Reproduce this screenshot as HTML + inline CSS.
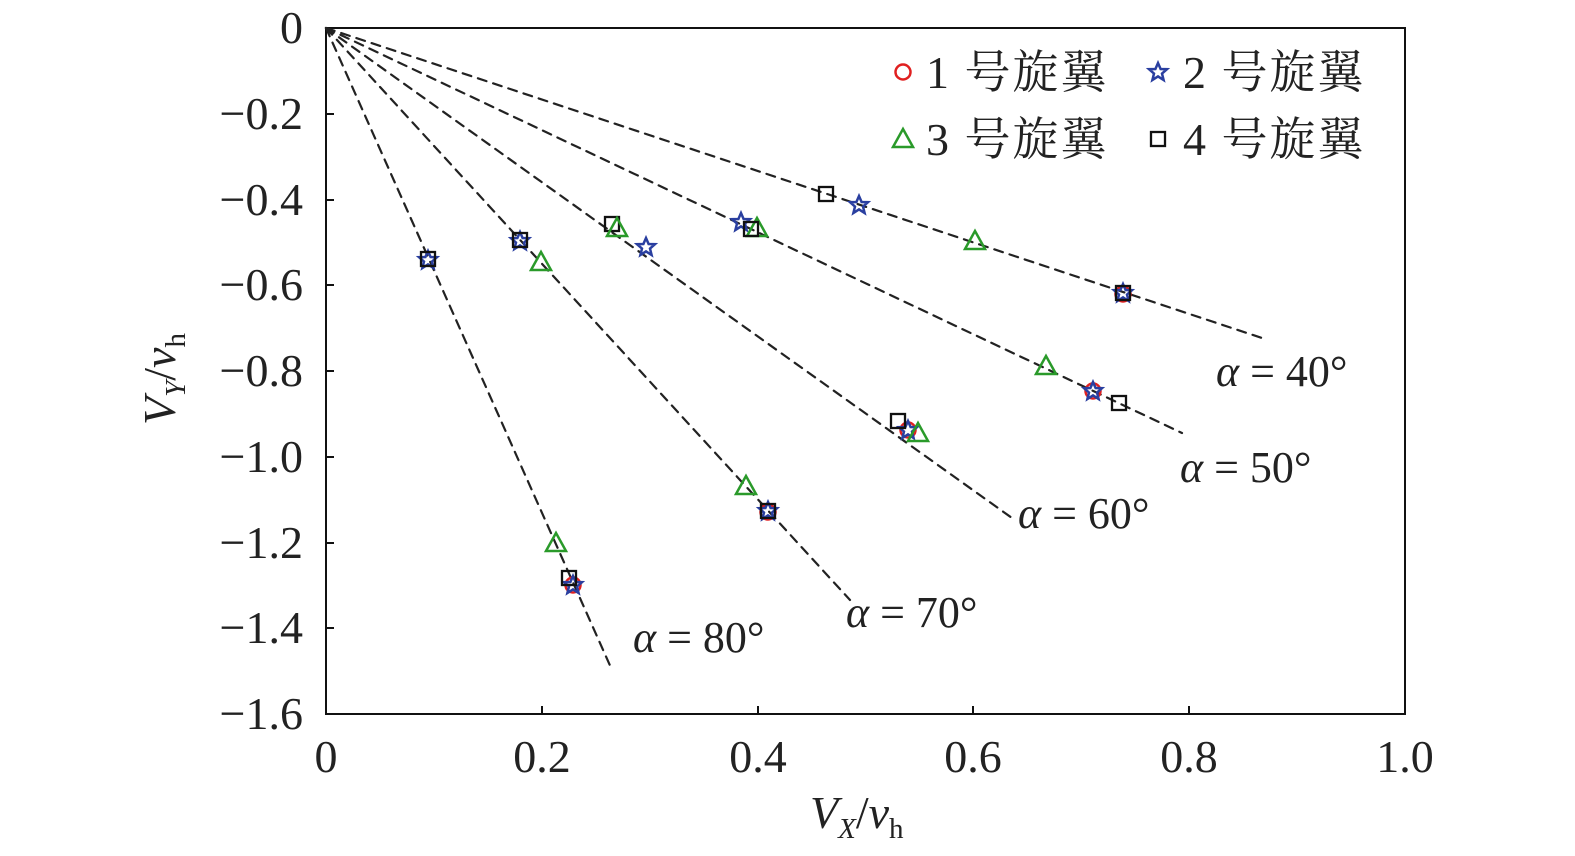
<!DOCTYPE html>
<html><head><meta charset="utf-8"><style>
html,body{margin:0;padding:0;background:#fff;}
svg{display:block;}
text{font-family:"Liberation Serif","Noto Serif CJK SC",serif;fill:#222;}
</style></head><body>
<svg width="1575" height="856" viewBox="0 0 1575 856" xmlns="http://www.w3.org/2000/svg">
<defs>
<g id="c"><circle r="7.5" fill="none" stroke="#e02020" stroke-width="2.5"/></g>
<g id="s"><polygon points="0,-9 2.6,-3 9,-2.8 4,1.6 5.6,8 0,4.4 -5.6,8 -4,1.6 -9,-2.8 -2.6,-3" fill="none" stroke="#2a3fa0" stroke-width="2.5"/></g>
<g id="t"><polygon points="0,-10 10,8 -10,8" fill="none" stroke="#2a9a2a" stroke-width="2.5"/></g>
<g id="q"><rect x="-7" y="-7" width="14" height="14" fill="none" stroke="#111" stroke-width="2.3"/></g>
</defs>
<rect x="326" y="28" width="1079" height="686" fill="none" stroke="#111" stroke-width="2"/>
<g stroke="#111" stroke-width="2">
<line x1="542" y1="714" x2="542" y2="706"/><line x1="758" y1="714" x2="758" y2="706"/><line x1="973" y1="714" x2="973" y2="706"/><line x1="1189" y1="714" x2="1189" y2="706"/>
<line x1="326" y1="114" x2="334" y2="114"/><line x1="326" y1="200" x2="334" y2="200"/><line x1="326" y1="285" x2="334" y2="285"/><line x1="326" y1="371" x2="334" y2="371"/><line x1="326" y1="457" x2="334" y2="457"/><line x1="326" y1="543" x2="334" y2="543"/><line x1="326" y1="628" x2="334" y2="628"/>
</g>
<g font-size="46" text-anchor="end">
<text x="303" y="43">0</text><text x="303" y="129">−0.2</text><text x="303" y="215">−0.4</text><text x="303" y="300">−0.6</text><text x="303" y="386">−0.8</text><text x="303" y="472">−1.0</text><text x="303" y="558">−1.2</text><text x="303" y="643">−1.4</text><text x="303" y="729">−1.6</text>
</g>
<g font-size="46" text-anchor="middle">
<text x="326" y="772">0</text><text x="542" y="772">0.2</text><text x="758" y="772">0.4</text><text x="973" y="772">0.6</text><text x="1189" y="772">0.8</text><text x="1405" y="772">1.0</text>
</g>
<text x="810" y="828" font-size="46" font-style="italic">V<tspan font-size="29" dy="10">X</tspan><tspan dy="-10" font-style="normal">/</tspan>v<tspan font-size="29" dy="10" font-style="normal">h</tspan></text>
<text transform="translate(175,425) rotate(-90)" font-size="46" font-style="italic">V<tspan font-size="29" dy="10">Y</tspan><tspan dy="-10" font-style="normal">/</tspan>v<tspan font-size="29" dy="10" font-style="normal">h</tspan></text>
<g stroke="#222" stroke-width="2.2" stroke-dasharray="9,7" fill="none" stroke-linecap="round">
<line x1="326" y1="28" x2="1262" y2="338"/>
<line x1="326" y1="28" x2="1182" y2="433"/>
<line x1="326" y1="28" x2="1012" y2="518"/>
<line x1="326" y1="28" x2="850" y2="600"/>
<line x1="326" y1="28" x2="612" y2="670"/>
</g>
<g font-size="44" xml:space="preserve">
<text x="1216" y="386"><tspan font-style="italic">α</tspan>  =  40°</text>
<text x="1180" y="482"><tspan font-style="italic">α</tspan>  =  50°</text>
<text x="1018" y="528"><tspan font-style="italic">α</tspan>  =  60°</text>
<text x="846" y="627"><tspan font-style="italic">α</tspan>  =  70°</text>
<text x="633" y="652"><tspan font-style="italic">α</tspan>  =  80°</text>
</g>
<use href="#q" x="826" y="194"/><use href="#s" x="859" y="205"/><use href="#t" x="975" y="241"/><use href="#c" x="1123" y="294"/><use href="#s" x="1123" y="293"/><use href="#q" x="1123" y="293"/>
<use href="#s" x="741" y="222"/><use href="#t" x="757" y="228"/><use href="#q" x="751" y="229"/><use href="#t" x="1046" y="366"/><use href="#c" x="1093" y="391"/><use href="#s" x="1093" y="391"/><use href="#q" x="1119" y="403"/>
<use href="#q" x="612" y="224"/><use href="#t" x="617" y="228"/><use href="#s" x="646" y="247"/><use href="#c" x="908" y="430"/><use href="#s" x="908" y="430"/><use href="#q" x="898" y="421"/><use href="#t" x="918" y="433"/>
<use href="#s" x="520" y="241"/><use href="#q" x="520" y="240"/><use href="#t" x="541" y="262"/><use href="#t" x="746" y="486"/><use href="#c" x="768" y="512"/><use href="#s" x="768" y="511"/><use href="#q" x="768" y="511"/>
<use href="#s" x="428" y="260"/><use href="#q" x="428" y="259"/><use href="#t" x="556" y="543"/><use href="#c" x="573" y="585"/><use href="#s" x="573" y="585"/><use href="#q" x="569" y="578"/>
<use href="#c" x="903" y="72"/><use href="#s" x="1158" y="72"/><use href="#t" x="903" y="139"/><use href="#q" x="1158" y="139"/>
<g font-size="46" letter-spacing="2" xml:space="preserve">
<text x="926" y="88">1  号旋翼</text><text x="1183" y="88">2  号旋翼</text>
<text x="926" y="155">3  号旋翼</text><text x="1183" y="155">4  号旋翼</text>
</g>
</svg>
</body></html>
